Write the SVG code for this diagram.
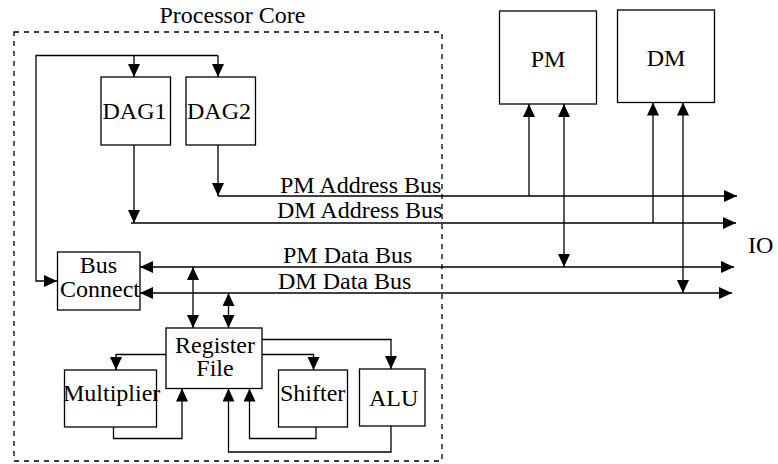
<svg xmlns="http://www.w3.org/2000/svg" width="778" height="464" viewBox="0 0 778 464">
<style>
.box{fill:#fff;stroke:#000;stroke-width:1.3}
.ln{fill:none;stroke:#000;stroke-width:1.3}
.t{font-family:"Liberation Serif","Times New Roman",serif;font-size:24px;fill:#000}
.m{text-anchor:middle}
</style>
<defs>
<marker id="a" markerUnits="userSpaceOnUse" markerWidth="14" markerHeight="13" refX="13" refY="6" orient="auto-start-reverse"><path d="M0,0 L13,6 L0,12 z" fill="#000"/></marker>
</defs>
<rect width="778" height="464" fill="#fff"/>
<g id="core">
<rect x="14" y="32" width="428" height="429" fill="none" stroke="#000" stroke-width="1.3" stroke-dasharray="5,5"/>
<text class="t m" x="232.5" y="23">Processor Core</text>
</g>
<g id="connectors">
<path class="ln" d="M57,281 H36 V55.5 H218" marker-start="url(#a)"/>
<path class="ln" d="M134,55.5 V77" marker-end="url(#a)"/>
<path class="ln" d="M218,55.5 V77" marker-end="url(#a)"/>
<path class="ln" d="M134,145 V223" marker-end="url(#a)"/>
<path class="ln" d="M218,145 V196" marker-end="url(#a)"/>
<path class="ln" d="M218,196 H737" marker-end="url(#a)"/>
<path class="ln" d="M131,223 H736" marker-end="url(#a)"/>
<path class="ln" d="M140,267 H734" marker-start="url(#a)" marker-end="url(#a)"/>
<path class="ln" d="M140,293 H732" marker-start="url(#a)" marker-end="url(#a)"/>
<path class="ln" d="M529,196 V104" marker-end="url(#a)"/>
<path class="ln" d="M564,267 V104" marker-start="url(#a)" marker-end="url(#a)"/>
<path class="ln" d="M653,223 V102.5" marker-end="url(#a)"/>
<path class="ln" d="M683,293 V102.5" marker-start="url(#a)" marker-end="url(#a)"/>
<path class="ln" d="M193,267 V328" marker-start="url(#a)" marker-end="url(#a)"/>
<path class="ln" d="M228.5,293 V328" marker-start="url(#a)" marker-end="url(#a)"/>
<path class="ln" d="M166,354.5 H116 V370" marker-end="url(#a)"/>
<path class="ln" d="M262,354.5 H313.5 V370" marker-end="url(#a)"/>
<path class="ln" d="M262,339.5 H391 V369" marker-end="url(#a)"/>
<path class="ln" d="M113.5,427 V438.5 H182 V388.5" marker-end="url(#a)"/>
<path class="ln" d="M316,427 V438.5 H249.5 V388.5" marker-end="url(#a)"/>
<path class="ln" d="M391,426 V452 H228.5 V388.5" marker-end="url(#a)"/>
</g>
<g id="dag1"><rect class="box" x="101" y="77" width="69.5" height="68"/><text class="t" x="102.5" y="119">DAG1</text></g>
<g id="dag2"><rect class="box" x="186" y="77" width="69.5" height="68"/><text class="t" x="187" y="119">DAG2</text></g>
<g id="pm"><rect class="box" x="499.5" y="11" width="97" height="93"/><text class="t m" x="548" y="67">PM</text></g>
<g id="dm"><rect class="box" x="617.5" y="10" width="97" height="92.5"/><text class="t m" x="666" y="66">DM</text></g>
<g id="labels">
<text class="t" x="280" y="193">PM Address Bus</text>
<text class="t" x="277" y="218">DM Address Bus</text>
<text class="t" x="283" y="263">PM Data Bus</text>
<text class="t" x="278" y="289">DM Data Bus</text>
<text class="t" x="748" y="253">IO</text>
</g>
<g id="busconnect"><rect class="box" x="57.5" y="252" width="82.5" height="58"/><text class="t m" x="98.5" y="273">Bus</text><text class="t" x="60" y="297">Connect</text></g>
<g id="regfile"><rect class="box" x="166" y="328" width="96" height="60.5"/><text class="t m" x="215" y="353">Register</text><text class="t m" x="215" y="376">File</text></g>
<g id="multiplier"><rect class="box" x="64.5" y="370" width="92" height="57"/><text class="t" x="63" y="401">Multiplier</text></g>
<g id="shifter"><rect class="box" x="278.5" y="370" width="69" height="57"/><text class="t" x="280" y="401">Shifter</text></g>
<g id="alu"><rect class="box" x="359.5" y="369" width="65.5" height="57"/><text class="t" x="369" y="406">ALU</text></g>
</svg>
